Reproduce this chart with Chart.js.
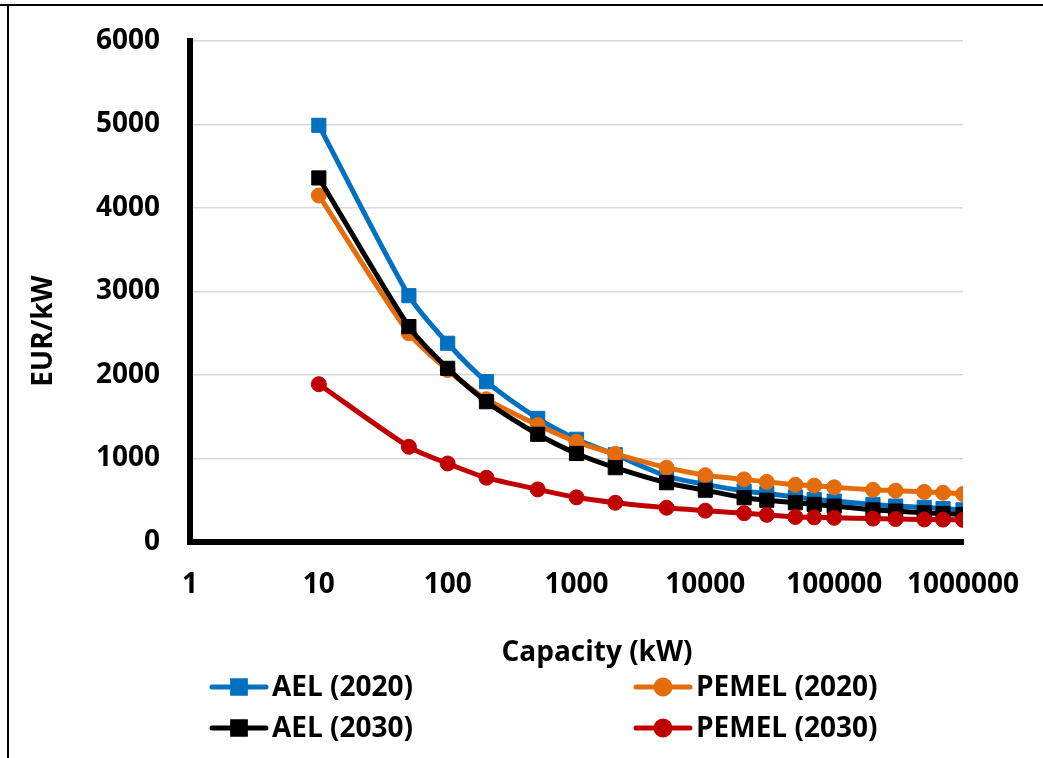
<!DOCTYPE html>
<html>
<head>
<meta charset="utf-8">
<script src="https://cdn.jsdelivr.net/npm/chart.js@4.4.1/dist/chart.umd.min.js"></script>
<style>
html,body{margin:0;padding:0;background:#ffffff;}
#wrap{width:1043px;height:758px;position:relative;}
</style>
</head>
<body>
<div id="wrap"><canvas id="c" width="1043" height="758"></canvas></div>
<script>
// ---- data ----
const capacities = [10, 50, 100, 200, 500, 1000, 2000, 5000, 10000, 20000, 30000, 50000, 70000, 100000, 200000, 300000, 500000, 700000, 1000000];
const ael2020   = [4990, 2950, 2380, 1920, 1480, 1230, 1045, 790, 690, 610, 580, 540, 510, 490, 450, 430, 415, 400, 385];
const pemel2020 = [4150, 2500, 2060, 1710, 1400, 1200, 1055, 890, 800, 750, 720, 685, 675, 655, 625, 615, 600, 590, 575];
const ael2030   = [4360, 2580, 2080, 1680, 1290, 1060, 890, 710, 620, 530, 500, 470, 450, 430, 385, 370, 350, 340, 330];
const pemel2030 = [1890, 1140, 940, 770, 630, 535, 470, 410, 375, 345, 325, 300, 295, 290, 280, 275, 270, 268, 265];
const seriesNames = ['AEL (2020)', 'PEMEL (2020)', 'AEL (2030)', 'PEMEL (2030)'];
const xTickValues = [1, 10, 100, 1000, 10000, 100000, 1000000];
const yTickValues = [0, 1000, 2000, 3000, 4000, 5000, 6000];
const xAxisTitle = 'Capacity (kW)';
const yAxisTitle = 'EUR/kW';

const FONT = "'Open Sans', 'Liberation Sans', sans-serif";
Chart.defaults.font.family = FONT;
Chart.defaults.font.size = 28;
Chart.defaults.font.weight = 'bold';
Chart.defaults.color = '#000000';

function pts(vals) { return capacities.map((c, i) => ({ x: c, y: vals[i] })); }

const styles = [
  { color: '#0070C0', pointStyle: 'rect', radius: 10, order: 3 },
  { color: '#E46C0A', pointStyle: 'circle', radius: 7.5, order: 2 },
  { color: '#000000', pointStyle: 'rect', radius: 10, order: 1 },
  { color: '#C00000', pointStyle: 'circle', radius: 7.5, order: 0 }
];
const seriesValues = [ael2020, pemel2020, ael2030, pemel2030];

const datasets = seriesValues.map((vals, i) => ({
  label: seriesNames[i],
  data: pts(vals),
  borderColor: styles[i].color,
  backgroundColor: styles[i].color,
  pointBackgroundColor: styles[i].color,
  pointBorderColor: styles[i].color,
  pointStyle: styles[i].pointStyle,
  pointRadius: styles[i].radius,
  pointBorderWidth: 1,
  borderWidth: 5,
  tension: 0.25,
  order: styles[i].order
}));

// frame, axis titles and two-column legend
const decorPlugin = {
  id: 'decor',
  beforeDraw(chart) {
    const ctx = chart.ctx;
    ctx.save();
    ctx.fillStyle = '#ffffff';
    ctx.fillRect(0, 0, chart.width, chart.height);
    ctx.strokeStyle = '#000000';
    ctx.lineWidth = 2;
    ctx.beginPath();
    ctx.moveTo(0, 5); ctx.lineTo(chart.width, 5);
    ctx.moveTo(8, 5); ctx.lineTo(8, chart.height);
    ctx.stroke();
    ctx.restore();
  },
  afterDraw(chart) {
    const ctx = chart.ctx;
    ctx.save();
    ctx.fillStyle = '#000000';
    ctx.font = 'bold 28px ' + FONT;
    ctx.textBaseline = 'middle';
    ctx.textAlign = 'center';
    // x-axis title
    ctx.fillText(xAxisTitle, 597, 653);
    // y-axis title
    ctx.save();
    ctx.translate(44, 331);
    ctx.rotate(-Math.PI / 2);
    ctx.fillText(yAxisTitle, 0, 0);
    ctx.restore();
    // legend (two columns)
    const cols = [210, 634];
    const rows = [687, 728];
    chart.data.datasets.forEach((ds, i) => {
      const x0 = cols[i % 2];
      const y0 = rows[Math.floor(i / 2)];
      ctx.strokeStyle = ds.borderColor;
      ctx.lineWidth = 5;
      ctx.lineCap = 'round';
      ctx.beginPath();
      ctx.moveTo(x0 + 2, y0); ctx.lineTo(x0 + 56, y0);
      ctx.stroke();
      ctx.fillStyle = ds.borderColor;
      Chart.helpers.drawPoint(ctx, {
        pointStyle: ds.pointStyle,
        radius: ds.pointStyle === 'rect' ? 9 : 7,
        rotation: 0,
        borderWidth: 1
      }, x0 + 29, y0);
      ctx.fillStyle = '#000000';
      ctx.textAlign = 'left';
      ctx.fillText(ds.label, x0 + 62, y0 + 1);
    });
    ctx.restore();
  }
};

new Chart(document.getElementById('c'), {
  type: 'line',
  data: { datasets },
  plugins: [decorPlugin],
  options: {
    responsive: false,
    animation: false,
    devicePixelRatio: 1,
    layout: { padding: { left: 0, right: 80, top: 41, bottom: 0 } },
    plugins: {
      legend: { display: false },
      tooltip: { enabled: false },
      title: { display: false }
    },
    scales: {
      x: {
        type: 'logarithmic',
        min: 1,
        max: 1000000,
        afterBuildTicks: (scale) => { scale.ticks = xTickValues.map(v => ({ value: v })); },
        afterFit: (scale) => { scale.height = 216; scale.paddingLeft = 0; scale.paddingRight = 0; },
        ticks: {
          autoSkip: false,
          maxRotation: 0,
          padding: 26,
          color: '#000000',
          font: { size: 28, weight: 'bold' },
          callback: (v) => String(v)
        },
        grid: { display: false, drawTicks: false },
        border: { display: true, color: '#000000', width: 6 },
        title: { display: false, text: xAxisTitle }
      },
      y: {
        type: 'linear',
        min: 0,
        max: 6000,
        afterBuildTicks: (scale) => { scale.ticks = yTickValues.map(v => ({ value: v })); },
        afterFit: (scale) => { scale.width = 190; scale.paddingTop = 0; scale.paddingBottom = 0; },
        ticks: {
          padding: 30,
          color: '#000000',
          font: { size: 28, weight: 'bold' },
          callback: (v) => String(v)
        },
        grid: { display: true, color: '#D9D9D9', lineWidth: 1.5, drawTicks: false },
        border: { display: true, color: '#000000', width: 6 },
        title: { display: false, text: yAxisTitle }
      }
    }
  }
});
</script>
</body>
</html>
